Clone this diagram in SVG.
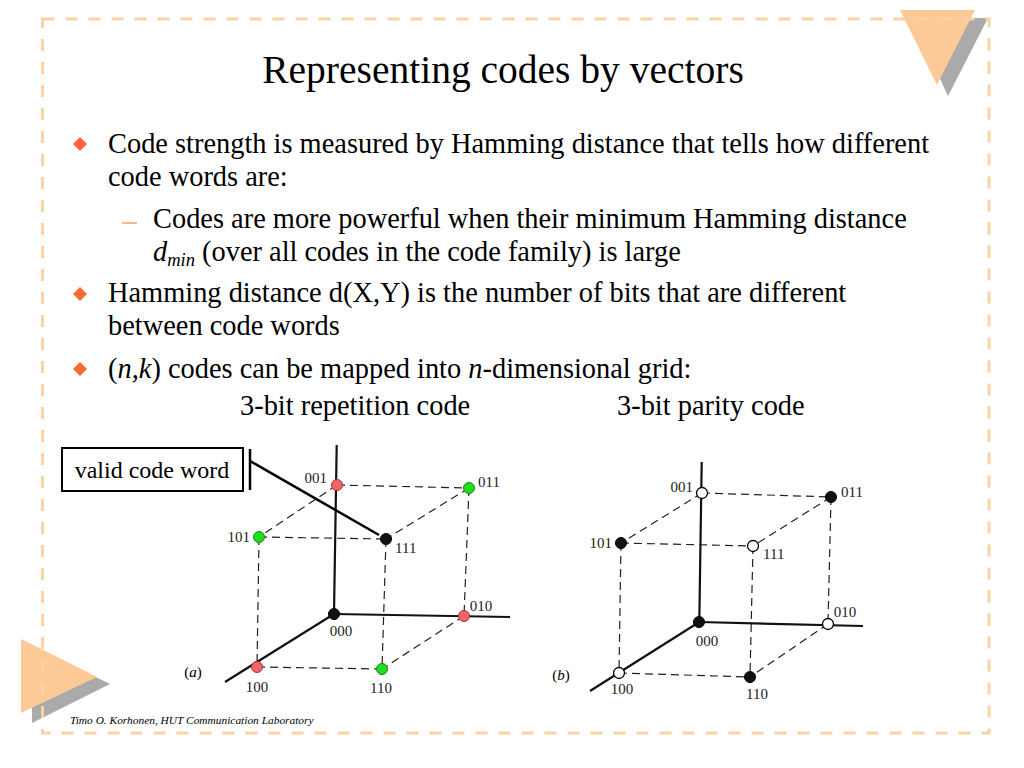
<svg xmlns="http://www.w3.org/2000/svg" width="1024" height="768" viewBox="0 0 1024 768">
<defs>
<style>
.t{font-family:"Liberation Serif","Times New Roman",serif;fill:#000}
.body{font-size:28.4px}
.lbl{font-size:15px;fill:#222}
.dash{stroke:#222;stroke-width:1.2;stroke-dasharray:8 5;fill:none}
.axis{stroke:#111;stroke-width:2.2;fill:none}
.red{fill:#EE6666;stroke:#B03030;stroke-width:1}
.grn{fill:#22DD22;stroke:#118811;stroke-width:1}
.blk{fill:#111;stroke:#000;stroke-width:1}
.wht{fill:#fff;stroke:#000;stroke-width:1.3}
.bul{fill:#F26A35}
</style>
</defs>
<rect width="1024" height="768" fill="#fff"/>
<!-- decorations -->
<polygon points="912,18 988,18 948,96" fill="#AAAAAA"/>
<polygon points="900,10 975,10 937,85" fill="#FDC996"/>
<polygon points="32,646 110,684 32,723" fill="#AAAAAA"/>
<polygon points="21,639 97,677 21,713" fill="#FDC996"/>
<rect x="42.5" y="19" width="946.5" height="714" fill="none" stroke="#FAD2A5" stroke-width="3" stroke-dasharray="12 11"/>
<!-- title -->
<text class="t" x="503" y="83" font-size="39.5" text-anchor="middle">Representing codes by vectors</text>
<!-- bullets -->
<polygon class="bul" points="80,137 87,144 80,151 73,144"/>
<polygon class="bul" points="80,287 87,294 80,301 73,294"/>
<polygon class="bul" points="80,362 87,369 80,376 73,369"/>
<line x1="122" y1="223" x2="137" y2="223" stroke="#F0A070" stroke-width="1.5"/>
<text class="t body" x="108" y="153">Code strength is measured by Hamming distance that tells how different</text>
<text class="t body" x="108" y="186">code words are:</text>
<text class="t body" x="153" y="228">Codes are more powerful when their minimum Hamming distance</text>
<text class="t body" x="153" y="261"><tspan font-style="italic">d</tspan><tspan font-style="italic" font-size="18.5" dy="5">min</tspan><tspan dy="-5"> (over all codes in the code family) is large</tspan></text>
<text class="t body" x="108" y="302">Hamming distance d(X,Y) is the number of bits that are different</text>
<text class="t body" x="108" y="335">between code words</text>
<text class="t body" x="108" y="378">(<tspan font-style="italic">n,k</tspan>) codes can be mapped into <tspan font-style="italic">n</tspan>-dimensional grid:</text>
<text class="t body" x="240" y="415">3-bit repetition code</text>
<text class="t body" x="617" y="415">3-bit parity code</text>
<!-- callout -->
<g id="callout">
<rect x="62" y="448" width="181" height="43" fill="#fff" stroke="#000" stroke-width="2"/>
<text class="t" x="152" y="478" font-size="24" text-anchor="middle">valid code word</text>
<line x1="250" y1="449" x2="250" y2="490" stroke="#000" stroke-width="2.5"/>
</g>
<!-- cube a -->
<g id="connectors-a">
<line class="axis" x1="336.7" y1="445" x2="334" y2="614"/>
<line class="axis" x1="334" y1="614" x2="510" y2="617"/>
<line class="axis" x1="334" y1="614" x2="225" y2="682"/>
<line class="dash" x1="337" y1="485" x2="469" y2="488"/>
<line class="dash" x1="337" y1="485" x2="259" y2="537"/>
<line class="dash" x1="259" y1="537" x2="386" y2="539"/>
<line class="dash" x1="469" y1="488" x2="386" y2="539"/>
<line class="dash" x1="259" y1="537" x2="257" y2="667"/>
<line class="dash" x1="386" y1="539" x2="382" y2="669"/>
<line class="dash" x1="469" y1="488" x2="464" y2="616"/>
<line class="dash" x1="464" y1="616" x2="382" y2="669"/>
<line class="dash" x1="257" y1="667" x2="382" y2="669"/>
<line x1="250" y1="461" x2="379" y2="535" stroke="#000" stroke-width="2.5"/>
</g>
<g id="a-001"><circle class="red" cx="337" cy="485" r="5.5"/><text class="t lbl" x="327" y="483" text-anchor="end">001</text></g>
<g id="a-011"><circle class="grn" cx="469" cy="488" r="5.5"/><text class="t lbl" x="478" y="487">011</text></g>
<g id="a-101"><circle class="grn" cx="259" cy="537" r="5.5"/><text class="t lbl" x="250" y="542" text-anchor="end">101</text></g>
<g id="a-111"><circle class="blk" cx="386" cy="539" r="5.5"/><text class="t lbl" x="395" y="553">111</text></g>
<g id="a-000"><circle class="blk" cx="334" cy="614" r="5.5"/><text class="t lbl" x="341" y="636" text-anchor="middle">000</text></g>
<g id="a-010"><circle class="red" cx="464" cy="616" r="5.5"/><text class="t lbl" x="481" y="611" text-anchor="middle">010</text></g>
<g id="a-100"><circle class="red" cx="257" cy="667" r="5.5"/><text class="t lbl" x="257" y="692" text-anchor="middle">100</text></g>
<g id="a-110"><circle class="grn" cx="382" cy="669" r="5.5"/><text class="t lbl" x="381" y="693" text-anchor="middle">110</text></g>
<text class="t" x="193" y="677" font-size="15" text-anchor="middle">(<tspan font-style="italic">a</tspan>)</text>
<!-- cube b -->
<g id="connectors-b">
<line class="axis" x1="701.7" y1="462" x2="699.3" y2="622"/>
<line class="axis" x1="699.3" y1="622" x2="863" y2="626"/>
<line class="axis" x1="699.3" y1="622" x2="590" y2="691"/>
<line class="dash" x1="702" y1="493" x2="831" y2="497"/>
<line class="dash" x1="702" y1="493" x2="621" y2="543"/>
<line class="dash" x1="621" y1="543" x2="753" y2="546"/>
<line class="dash" x1="831" y1="497" x2="753" y2="546"/>
<line class="dash" x1="621" y1="543" x2="619" y2="673"/>
<line class="dash" x1="753" y1="546" x2="750" y2="677"/>
<line class="dash" x1="831" y1="497" x2="828" y2="624"/>
<line class="dash" x1="828" y1="624" x2="750" y2="677"/>
<line class="dash" x1="619" y1="673" x2="750" y2="677"/>
</g>
<g id="b-001"><circle class="wht" cx="702" cy="493" r="5.5"/><text class="t lbl" x="693" y="492" text-anchor="end">001</text></g>
<g id="b-011"><circle class="blk" cx="831" cy="497" r="5.5"/><text class="t lbl" x="841" y="497">011</text></g>
<g id="b-101"><circle class="blk" cx="621" cy="543" r="5.5"/><text class="t lbl" x="612" y="548" text-anchor="end">101</text></g>
<g id="b-111"><circle class="wht" cx="753" cy="546" r="5.5"/><text class="t lbl" x="763" y="559">111</text></g>
<g id="b-000"><circle class="blk" cx="699" cy="622" r="5.5"/><text class="t lbl" x="707" y="646" text-anchor="middle">000</text></g>
<g id="b-010"><circle class="wht" cx="828" cy="624" r="5.5"/><text class="t lbl" x="845" y="617" text-anchor="middle">010</text></g>
<g id="b-100"><circle class="wht" cx="619" cy="673" r="5.5"/><text class="t lbl" x="622" y="694" text-anchor="middle">100</text></g>
<g id="b-110"><circle class="blk" cx="750" cy="677" r="5.5"/><text class="t lbl" x="757" y="699" text-anchor="middle">110</text></g>
<text class="t" x="561" y="680" font-size="15" text-anchor="middle">(<tspan font-style="italic">b</tspan>)</text>
<!-- footer -->
<text class="t" x="70" y="724" font-size="11.4" font-style="italic">Timo O. Korhonen, HUT Communication Laboratory</text>
</svg>
